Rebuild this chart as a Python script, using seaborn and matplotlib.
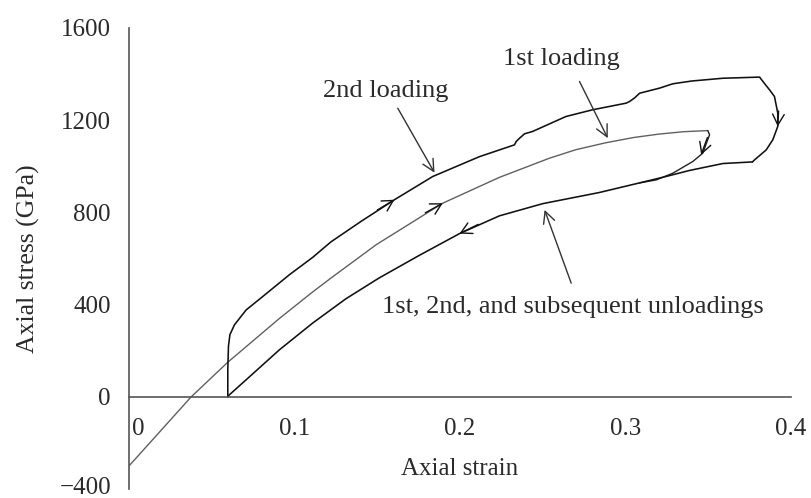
import matplotlib
matplotlib.use("Agg")
import matplotlib.pyplot as plt
import matplotlib.transforms as mtransforms
import pandas as pd
import seaborn as sns

# ---- hysteresis data: axial strain vs. axial stress (GPa) ----
# first loading branch (thin grey trace)
load1_strain = [0.0, 0.0376, 0.0597, 0.0909, 0.111, 0.122, 0.1494, 0.1896,
                0.2238, 0.254, 0.27, 0.288, 0.305, 0.3205, 0.335, 0.3497]
load1_stress = [-300, 0, 150, 340, 455, 515, 660, 840,
                952, 1035, 1072, 1102, 1125, 1140, 1150, 1155]

# first unloading branch, from the first peak down to the common path
unload1_strain = [0.3497, 0.3508, 0.3467, 0.3407, 0.3286, 0.3186, 0.3085]
unload1_stress = [1155, 1137, 1057, 1021, 970, 941, 928]

# second loading branch, including the turn at its peak
load2_strain = [0.0597, 0.0597, 0.0601, 0.0610, 0.0637, 0.0708, 0.0808, 0.097,
                0.111, 0.122, 0.14, 0.1604, 0.1836, 0.2118, 0.2238, 0.2329,
                0.2340, 0.236, 0.239, 0.2438, 0.264, 0.28, 0.3004, 0.3024,
                0.3054, 0.3085, 0.3205, 0.3286, 0.34, 0.3588, 0.381, 0.385,
                0.387, 0.390, 0.392, 0.392, 0.389, 0.385, 0.378, 0.3767]
load2_stress = [0, 120, 220, 270, 312, 377, 435, 530,
                605, 672, 760, 855, 956, 1042, 1071, 1093,
                1108, 1122, 1141, 1151, 1216, 1245, 1274, 1281,
                1296, 1317, 1339, 1358, 1370, 1382, 1387, 1350,
                1332, 1303, 1231, 1173, 1115, 1071, 1028, 1019]

# common unloading path (1st, 2nd and subsequent)
unload_strain = [0.3767, 0.3588, 0.3387, 0.3246, 0.3085, 0.284, 0.25, 0.2238,
                 0.1997, 0.175, 0.151, 0.131, 0.111, 0.0909, 0.0708, 0.0607,
                 0.0597]
unload_stress = [1019, 1012, 982, 956, 928, 886, 838, 785,
                 708, 612, 515, 425, 320, 204, 74, 9,
                 0]

# direction arrows drawn on the curves: (tail, tip)
flow_arrows = [
    ((0.150, 810), (0.1604, 855)),     # 2nd loading
    ((0.179, 798), (0.1896, 840)),     # 1st loading
    ((0.211, 748), (0.1997, 708)),     # unloading
    ((0.3495, 1125), (0.3457, 1050)),  # 1st unloading
    ((0.3925, 1240), (0.392, 1173)),   # 2nd unloading
]

# callouts: text, text anchor (centre, baseline), arrow tail, arrow tip
callouts = [
    ("2nd loading", (0.155, 1301), (0.1624, 1252), (0.1846, 972)),
    ("1st loading", (0.2611, 1440), (0.2722, 1368), (0.2893, 1122)),
    ("1st, 2nd, and subsequent unloadings", (0.268, 364), (0.2672, 493),
     (0.2511, 811)),
]

x_ticks = [0, 0.1, 0.2, 0.3, 0.4]
x_tick_labels = ["0", "0.1", "0.2", "0.3", "0.4"]
y_ticks = [-400, 0, 400, 800, 1200, 1600]
y_tick_labels = ["\u2212400", "0", "400", "800", "1200", "1600"]

sns.set_theme(style="white")
plt.rcParams["font.family"] = ["Liberation Serif", "DejaVu Serif"]
plt.rcParams["font.size"] = 18

text_color = "#2a2a2a"
axis_color = "#555555"

fig = plt.figure(figsize=(8.11, 4.98), dpi=100)
ax = fig.add_axes([129 / 811, 9 / 498, 662 / 811, 461 / 498])


def trace(strain, stress, color, lw):
    df = pd.DataFrame({"strain": strain, "stress": stress})
    sns.lineplot(data=df, x="strain", y="stress", sort=False, estimator=None,
                 color=color, lw=lw, ax=ax)


trace(load1_strain, load1_stress, "#606060", 1.0)
trace(unload1_strain, unload1_stress, "#222222", 1.0)
trace(load2_strain, load2_stress, "#111111", 1.15)
trace(unload_strain, unload_stress, "#111111", 1.15)

for tail, tip in flow_arrows:
    ax.annotate("", xy=tip, xytext=tail,
                arrowprops=dict(arrowstyle="->,head_length=0.55,head_width=0.3",
                                color="#111111", lw=1.0, shrinkA=0, shrinkB=0,
                                mutation_scale=14))

for label, pos, tail, tip in callouts:
    ax.text(pos[0], pos[1], label, ha="center", va="baseline",
            color=text_color, fontsize=19)
    ax.annotate("", xy=tip, xytext=tail,
                arrowprops=dict(arrowstyle="->,head_length=0.6,head_width=0.3",
                                color="#333333", lw=1.0, shrinkA=0, shrinkB=0,
                                mutation_scale=14))

ax.set_xlim(0, 0.4)
ax.set_ylim(-400, 1600)

ax.spines["top"].set_visible(False)
ax.spines["right"].set_visible(False)
ax.spines["bottom"].set_position(("data", 0))
for side in ("left", "bottom"):
    ax.spines[side].set_color(axis_color)
    ax.spines[side].set_linewidth(1.2)

ax.set_xticks(x_ticks)
ax.set_xticklabels(x_tick_labels)
ax.set_yticks(y_ticks)
ax.set_yticklabels(y_tick_labels)
ax.tick_params(axis="x", direction="out", length=5, width=1.1,
               color=axis_color, labelcolor=text_color, labelsize=18, pad=10)
ax.tick_params(axis="y", direction="out", length=5, width=1.1,
               color=axis_color, labelcolor=text_color, labelsize=18, pad=8)

# the "0" strain label sits just right of the stress axis
zero_lbl = ax.get_xticklabels()[0]
zero_lbl.set_ha("left")
zero_lbl.set_transform(zero_lbl.get_transform() +
                       mtransforms.ScaledTranslation(3 / 100, 0, fig.dpi_scale_trans))

# keep the lowest stress label inside the canvas
low_lbl = ax.get_yticklabels()[0]
low_lbl.set_transform(low_lbl.get_transform() +
                      mtransforms.ScaledTranslation(0, 4 / 100, fig.dpi_scale_trans))

ax.set_xlabel("Axial strain", color=text_color, fontsize=18)
ax.set_ylabel("Axial stress (GPa)", color=text_color, fontsize=18.5)
ax.xaxis.set_label_coords(0.5, 0.068)
ax.yaxis.set_label_coords(-0.135, 0.5)
ax.grid(False)

fig.savefig("out.png", dpi=100, facecolor="white")
